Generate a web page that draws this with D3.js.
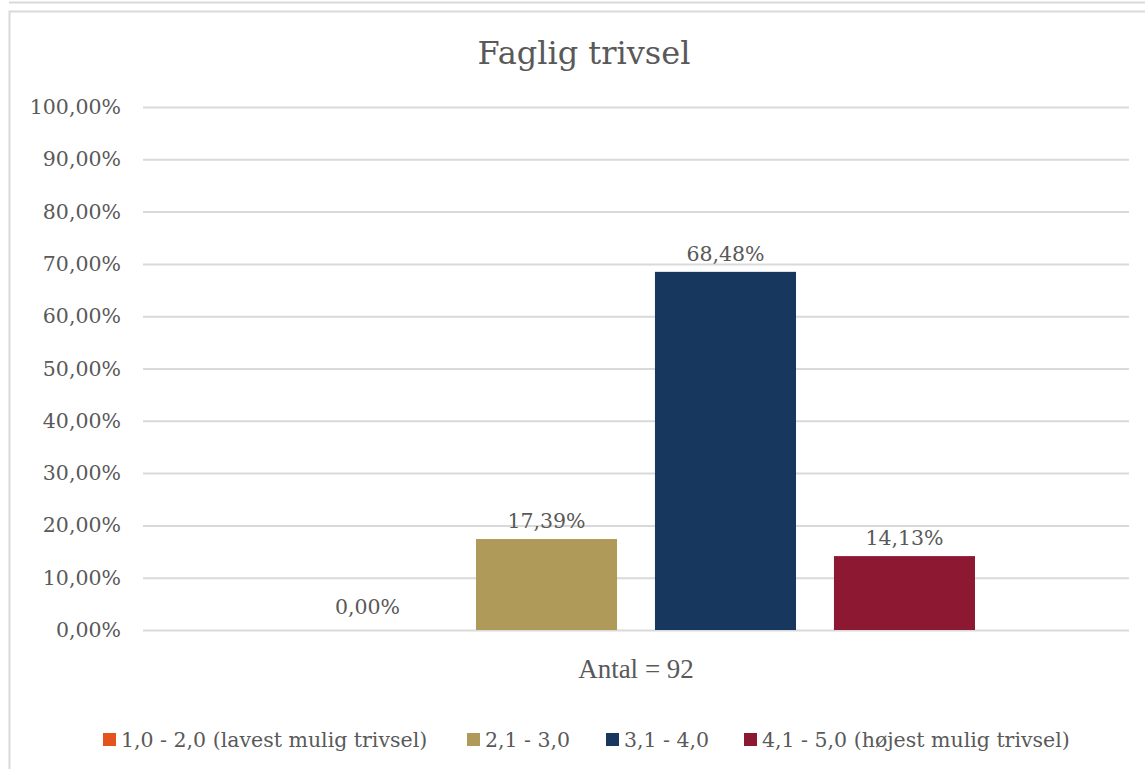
<!DOCTYPE html>
<html>
<head>
<meta charset="utf-8">
<script src="https://cdn.jsdelivr.net/npm/d3@7"></script>
<style>
  body { margin:0; background:#fff; }
  text { font-family: "DejaVu Serif", Georgia, serif; fill:#595959; }
</style>
</head>
<body>
<div class="canvas"></div>
<script>
var categories = ['1,0 - 2,0 (lavest mulig trivsel)', '2,1 - 3,0', '3,1 - 4,0', '4,1 - 5,0 (højest mulig trivsel)'];
var values = [0.00, 17.39, 68.48, 14.13];
var colors = ['#E4531C', '#B09A59', '#18375E', '#8C1832'];
var groupLabel = 'Antal = 92';
var yTicks = [0, 10, 20, 30, 40, 50, 60, 70, 80, 90, 100];

var pageWidth = 1145, pageHeight = 769;
var margins = {t:107, r:16, b:139, l:143};
var plotWidth = pageWidth - margins.l - margins.r,
    plotHeight = pageHeight - margins.t - margins.b;

var svg = d3.select('.canvas')
    .append('svg')
    .attr('width', pageWidth)
    .attr('height', pageHeight);

// frames
svg.append('line')
    .attr('x1', 9).attr('x2', pageWidth).attr('y1', 2.5).attr('y2', 2.5)
    .style('stroke', '#d9d9d9').style('stroke-width', 2);
svg.append('rect')
    .attr('x', 9.5).attr('y', 11.5)
    .attr('width', pageWidth).attr('height', pageHeight)
    .style('fill', 'none').style('stroke', '#d9d9d9').style('stroke-width', 2);

svg.append('text')
    .attr('x', 584).attr('y', 64)
    .attr('text-anchor', 'middle')
    .style('font-size', '32px')
    .text('Faglig trivsel');

var plot = svg.append('g')
    .attr('transform', 'translate(' + margins.l + ',' + margins.t + ')');

var y = d3.scaleLinear().domain([0, 100]).range([plotHeight, 0]);

var groupScale = d3.scaleBand().domain([groupLabel]).range([0, plotWidth]);
var x = d3.scaleBand().domain(categories)
    .range([154, 832])
    .paddingInner(0.212);

var fmt = function(d){ return d3.format('.2f')(d).replace('.', ',') + '%'; };

var yAxis = d3.axisLeft(y)
    .tickValues(yTicks)
    .tickSize(-plotWidth)
    .tickPadding(22)
    .tickFormat(fmt);

var gy = plot.append('g').attr('class', 'y-axis').call(yAxis);
gy.select('.domain').remove();
gy.selectAll('.tick line').style('stroke', '#d9d9d9').style('stroke-width', 2);
gy.selectAll('.tick text')
    .style('font-size', '20.5px')
    .style('fill', '#595959')
    .style('font-family', '"DejaVu Serif", Georgia, serif');

var bars = plot.append('g').attr('class', 'bars');
bars.selectAll('rect')
    .data(values)
    .enter()
    .append('rect')
    .attr('x', function(d, i){ return x(categories[i]); })
    .attr('y', function(d){ return y(d); })
    .attr('width', x.bandwidth())
    .attr('height', function(d){ return plotHeight - y(d); })
    .style('fill', function(d, i){ return colors[i]; });

bars.selectAll('text')
    .data(values)
    .enter()
    .append('text')
    .attr('x', function(d, i){ return x(categories[i]) + x.bandwidth()/2; })
    .attr('y', function(d){ return y(d) - (d === 0 ? 16 : 11); })
    .attr('text-anchor', 'middle')
    .style('font-size', '20.5px')
    .text(fmt);

plot.append('text')
    .attr('x', groupScale(groupLabel) + groupScale.bandwidth()/2)
    .attr('y', plotHeight + 48)
    .attr('text-anchor', 'middle')
    .style('font-family', '"Liberation Serif", serif')
    .style('font-size', '27px')
    .text(groupLabel);

// legend
var legendX = [103, 467, 606, 744];
var legend = svg.append('g').attr('class', 'legend');
var items = legend.selectAll('g')
    .data(categories)
    .enter()
    .append('g')
    .attr('transform', function(d, i){ return 'translate(' + legendX[i] + ',733)'; });
items.append('rect')
    .attr('width', 13).attr('height', 13)
    .style('fill', function(d, i){ return colors[i]; });
items.append('text')
    .attr('x', 18).attr('y', 14)
    .style('font-size', '20.5px')
    .text(function(d){ return d; });
</script>
</body>
</html>
